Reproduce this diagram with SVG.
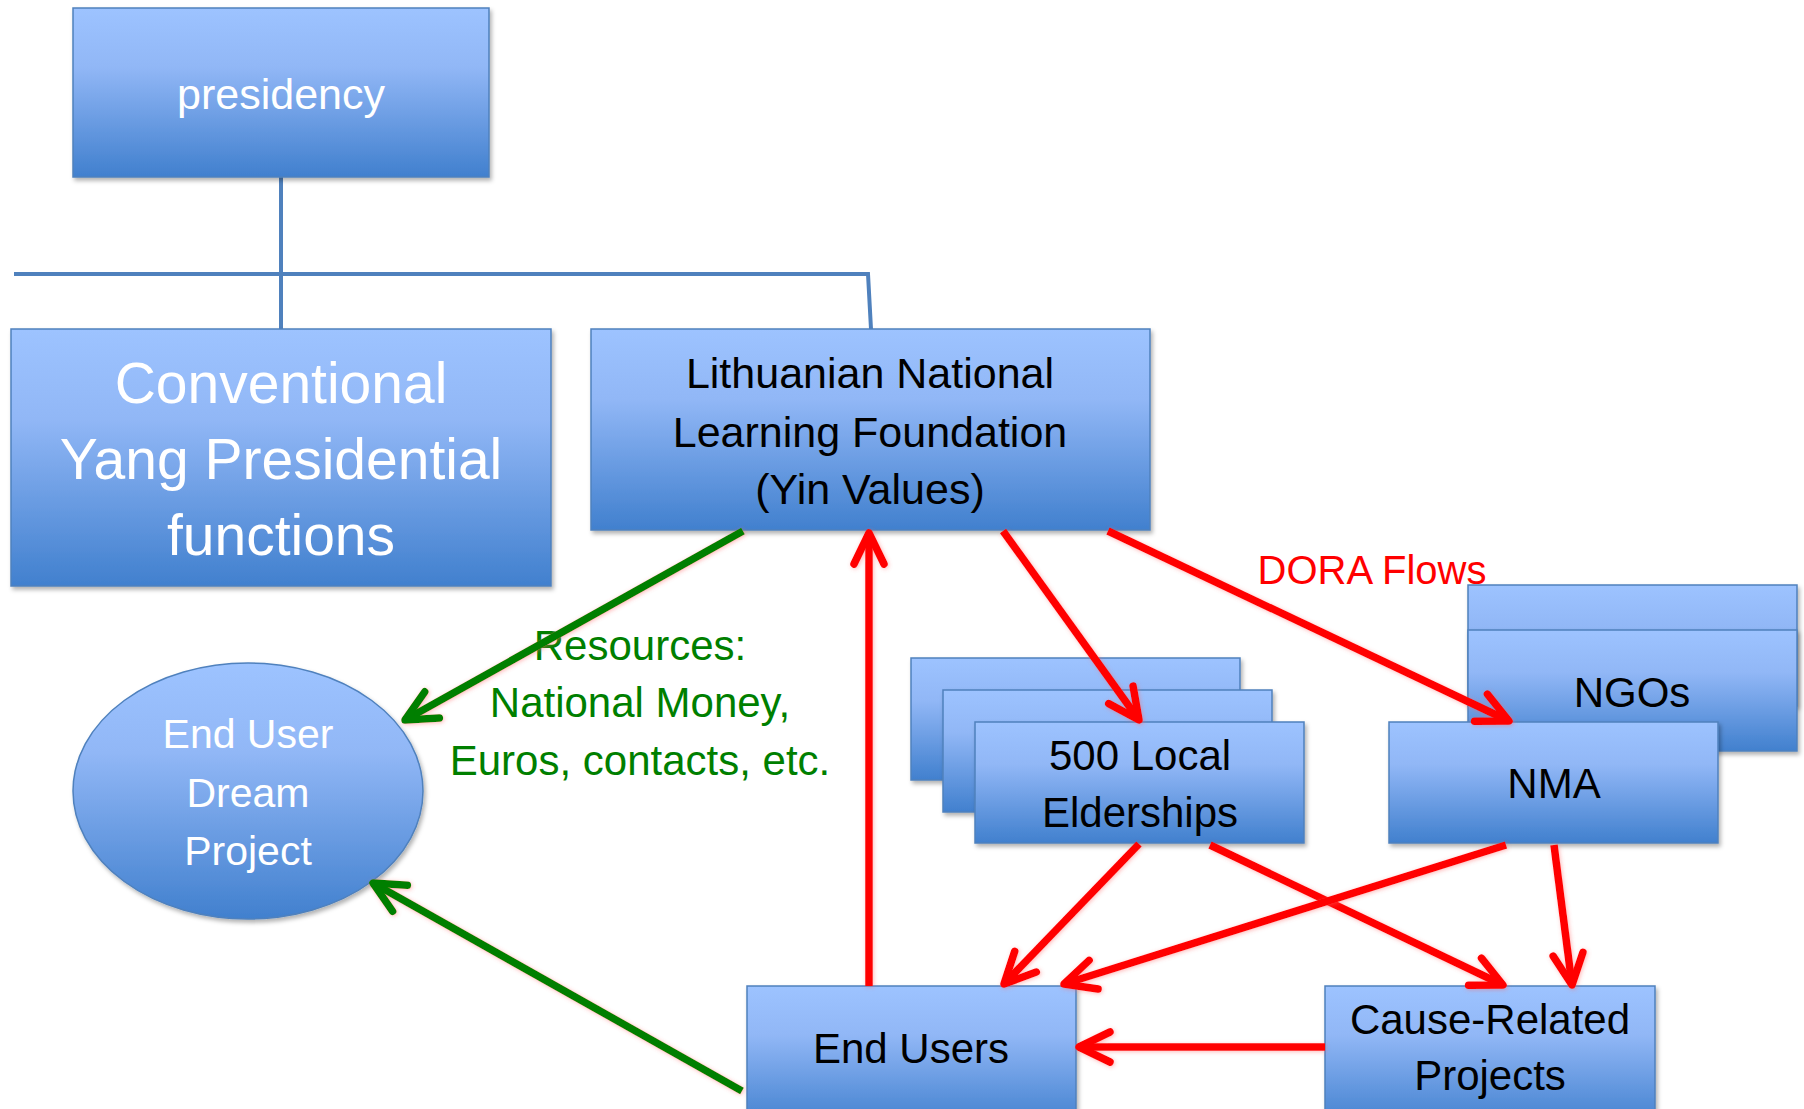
<svg xmlns="http://www.w3.org/2000/svg" width="1804" height="1109" viewBox="0 0 1804 1109">
<defs>
<linearGradient id="g" x1="0" y1="0" x2="0" y2="1">
<stop offset="0" stop-color="#9DC3FF"/>
<stop offset="0.35" stop-color="#91B7F6"/>
<stop offset="1" stop-color="#4180CE"/>
</linearGradient>
<filter id="sh" x="-10%" y="-10%" width="125%" height="130%">
<feDropShadow dx="2" dy="3" stdDeviation="2" flood-color="#000" flood-opacity="0.3"/>
</filter>
<filter id="glow" filterUnits="userSpaceOnUse" x="0" y="0" width="1804" height="1109">
<feDropShadow dx="1" dy="1" stdDeviation="2" flood-color="#FF6060" flood-opacity="0.45"/>
</filter>
<marker id="ar" markerUnits="userSpaceOnUse" markerWidth="60" markerHeight="60" viewBox="-40 -30 60 60" refX="0" refY="0" orient="auto">
<path d="M-31,-15 L0,0 L-31,15" fill="none" stroke="#FF0000" stroke-width="7.5" stroke-linecap="round" stroke-linejoin="round"/>
</marker>
<marker id="ag" markerUnits="userSpaceOnUse" markerWidth="60" markerHeight="60" viewBox="-40 -30 60 60" refX="0" refY="0" orient="auto">
<path d="M-31,-15 L0,0 L-31,15" fill="none" stroke="#007F00" stroke-width="7.5" stroke-linecap="round" stroke-linejoin="round"/>
</marker>
</defs>
<style>
.box{fill:url(#g);stroke:#4F81BD;stroke-width:1.5;filter:url(#sh);}
.t{font-family:"Liberation Sans",Arial,sans-serif;text-anchor:middle;}
.w{fill:#FFFFFF;}
.k{fill:#000000;}
.red{stroke:#FF0000;stroke-width:7.5;fill:none;marker-end:url(#ar);filter:url(#glow);}
.grn{stroke:#007F00;stroke-width:7.5;fill:none;marker-end:url(#ag);filter:url(#glow);}
.org{stroke:#4F81BD;stroke-width:4;fill:none;}
</style>
<rect width="1804" height="1109" fill="#FFFFFF"/>

<g id="org-lines">
<path class="org" d="M281,177 L281,329"/>
<path class="org" d="M14,274 L868,274 L871,329"/>
</g>

<g id="presidency">
<rect class="box" x="73" y="8" width="416" height="169"/>
<text class="t w" x="281" y="109" font-size="43">presidency</text>
</g>

<g id="conventional">
<rect class="box" x="11" y="329" width="540" height="257"/>
<text class="t w" x="281" y="403" font-size="57">Conventional</text>
<text class="t w" x="281" y="479" font-size="57">Yang Presidential</text>
<text class="t w" x="281" y="555" font-size="57">functions</text>
</g>

<g id="lnlf">
<rect class="box" x="591" y="329" width="559" height="201"/>
<text class="t k" x="870" y="388" font-size="43">Lithuanian National</text>
<text class="t k" x="870" y="447" font-size="43">Learning Foundation</text>
<text class="t k" x="870" y="504" font-size="43">(Yin Values)</text>
</g>

<g id="dream">
<ellipse cx="248" cy="791" rx="175" ry="128" fill="url(#g)" stroke="#4F81BD" stroke-width="1.5" filter="url(#sh)"/>
<text class="t w" x="248" y="748" font-size="41">End User</text>
<text class="t w" x="248" y="807" font-size="41">Dream</text>
<text class="t w" x="248" y="865" font-size="41">Project</text>
</g>

<g id="elderships">
<rect class="box" x="911" y="658" width="329" height="122"/>
<rect class="box" x="943" y="690" width="329" height="122"/>
<rect class="box" x="975" y="722" width="329" height="121"/>
<text class="t k" x="1140" y="770" font-size="42">500 Local</text>
<text class="t k" x="1140" y="827" font-size="42">Elderships</text>
</g>

<g id="ngos">
<rect class="box" x="1468" y="585" width="329" height="121"/>
<rect class="box" x="1468" y="630" width="329" height="121"/>
<text class="t k" x="1632" y="707" font-size="42">NGOs</text>
</g>

<g id="nma">
<rect class="box" x="1389" y="722" width="329" height="121"/>
<text class="t k" x="1554" y="798" font-size="42">NMA</text>
</g>

<g id="end-users">
<rect class="box" x="747" y="986" width="329" height="140"/>
<text class="t k" x="911" y="1063" font-size="42">End Users</text>
</g>

<g id="cause-related">
<rect class="box" x="1325" y="986" width="330" height="140"/>
<text class="t k" x="1490" y="1034" font-size="42">Cause-Related</text>
<text class="t k" x="1490" y="1090" font-size="42">Projects</text>
</g>

<g id="labels">
<text class="t" x="640" y="660" font-size="42" fill="#007F00">Resources:</text>
<text class="t" x="640" y="717" font-size="42" fill="#007F00">National Money,</text>
<text class="t" x="640" y="775" font-size="42" fill="#007F00">Euros, contacts, etc.</text>
<text class="t" x="1372" y="584" font-size="40" fill="#FF0000">DORA Flows</text>
</g>

<g id="connectors">
<path class="grn" d="M743,531 L405,720"/>
<path class="grn" d="M742,1091 L373,883"/>
<path class="red" d="M869,986 L869,533"/>
<path class="red" d="M1003,531 L1139,720"/>
<path class="red" d="M1108,531 L1509,721"/>
<path class="red" d="M1139,844 L1004,984"/>
<path class="red" d="M1210,845 L1503,985"/>
<path class="red" d="M1554,845 L1572,985"/>
<path class="red" d="M1506,845 L1064,984"/>
<path class="red" d="M1325,1047 L1079,1047"/>
</g>
</svg>
